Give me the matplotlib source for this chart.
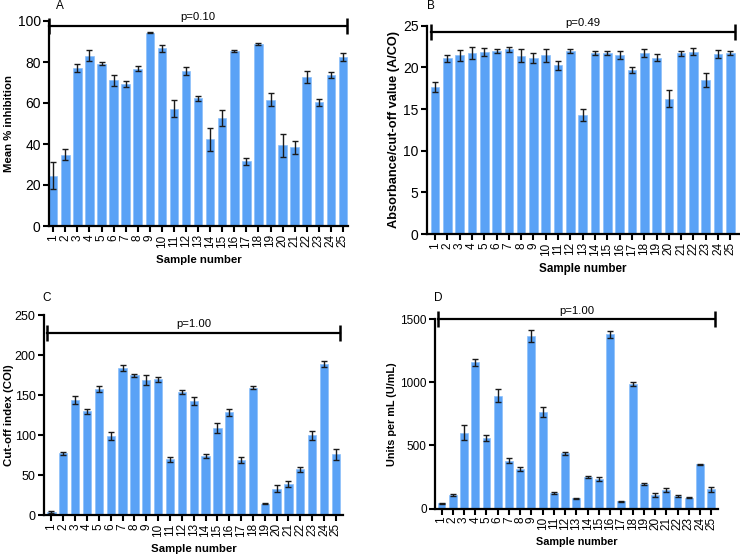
import matplotlib
matplotlib.use("Agg")
import matplotlib.pyplot as plt
import numpy as np

plt.rcParams['font.family'] = ['Liberation Sans', 'DejaVu Sans']

samples = [str(i) for i in range(1, 26)]

# Panel A: Mean % inhibition
a_vals = [24.6, 34.8, 77.2, 83.0, 79.2, 71.0, 69.3, 76.7, 94.3, 86.6, 57.2, 75.7, 62.3,
          42.3, 52.6, 85.4, 31.5, 88.7, 61.5, 39.3, 38.4, 72.6, 60.3, 73.6, 82.3]
a_err = [6.5, 2.8, 2.0, 2.7, 0.7, 2.8, 1.6, 1.3, 0.3, 1.8, 4.2, 2.1, 1.3,
         5.6, 3.9, 0.5, 1.7, 0.6, 3.2, 5.7, 3.2, 3.0, 1.7, 1.4, 1.9]

# Panel B: Absorbance/cut-off value
b_vals = [17.64, 21.08, 21.44, 21.72, 21.88, 21.92, 22.16, 21.40, 21.12, 21.44, 20.24, 22.0, 14.28,
          21.72, 21.72, 21.48, 19.68, 21.76, 21.16, 16.24, 21.68, 21.88, 18.44, 21.60, 21.72]
b_err = [0.6, 0.45, 0.7, 0.7, 0.5, 0.25, 0.3, 0.75, 0.6, 0.75, 0.5, 0.25, 0.7,
         0.2, 0.25, 0.5, 0.35, 0.5, 0.4, 1.0, 0.3, 0.4, 0.85, 0.45, 0.2]

# Panel C: Cut-off index (COI)
c_vals = [3.8, 77, 143.7, 129.5, 157.5, 98.8, 184, 174.6, 168.8, 169.6, 69.6, 153.8, 143,
          73.8, 109, 128.5, 68.8, 159, 13.8, 33, 39, 57, 99.6, 188.8, 76]
c_err = [1.0, 2.0, 5.0, 3.3, 4.0, 5.0, 4.0, 2.0, 6.0, 3.0, 3.0, 3.0, 5.0,
         3.0, 6.0, 4.6, 4.0, 1.7, 0.6, 4.0, 4.0, 3.3, 6.0, 4.0, 7.0]

# Panel D: Units per mL (U/mL)
d_vals = [42, 106, 600, 1156, 556, 894, 378, 312, 1365, 762, 122, 437, 82,
          249, 233, 1379, 58, 982, 193, 108, 146, 98, 87, 350, 153]
d_err = [4, 5, 58, 29, 24, 50, 19, 13, 48, 40, 5, 13, 4,
         10, 16, 29, 3, 16, 5, 18, 16, 8, 4, 5, 21]

panels = [
    dict(letter='A', vals=a_vals, err=a_err, ylabel='Mean % inhibition', ymax=100, yticks=[0, 20, 40, 60, 80, 100],
         p='p=0.10', bracket=97.8, rect=[49/740, 1-226/556, 299/740, 205/556], xlim=(-0.35, 24.42),
         ylc=-0.118, ytfs=10, ylfs=8.2, xlfs=8.2, let_off=(11, 15)),
    dict(letter='B', vals=b_vals, err=b_err, ylabel='Absorbance/cut-off value (A/CO)', ymax=25, yticks=[0, 5, 10, 15, 20, 25],
         p='p=0.49', bracket=24.3, rect=[427/740, 1-234/556, 312/740, 208.3/556], xlim=(-0.65, 24.7),
         ylc=-0.087, ytfs=10, ylfs=9.2, xlfs=8.4, let_off=(4, 20)),
    dict(letter='C', vals=c_vals, err=c_err, ylabel='Cut-off index (COI)', ymax=250, yticks=[0, 50, 100, 150, 200, 250],
         p='p=1.00', bracket=228, rect=[44/740, 1-515/556, 299/740, 200/556], xlim=(-0.63, 24.6),
         ylc=-0.102, ytfs=9, ylfs=8.2, xlfs=8.2, let_off=(3, 17)),
    dict(letter='D', vals=d_vals, err=d_err, ylabel='Units per mL (U/mL)', ymax=1500, yticks=[0, 500, 1000, 1500],
         p='p=1.00', bracket=1500, rect=[435/740, 1-508.5/556, 283/740, 189.5/556], xlim=(-0.58, 24.6),
         ylc=-0.134, ytfs=8.5, ylfs=7.8, xlfs=7.8, let_off=(3, 21)),
]

bar_color = '#5AA2F6'

fig = plt.figure(figsize=(7.4, 5.56), dpi=100)
for pn in panels:
    ax = fig.add_axes(pn['rect'])
    x = np.arange(len(samples))
    ax.bar(x, pn['vals'], width=0.7, color=bar_color, edgecolor='#8CC0FA', linewidth=0.5, zorder=2)
    ax.errorbar(x, pn['vals'], yerr=pn['err'], fmt='none', ecolor='#1a1a1a', elinewidth=1.0,
                capsize=2.3, capthick=1.0, zorder=3)
    ax.set_xlim(*pn['xlim'])
    ax.set_ylim(0, pn['ymax'])
    ax.set_yticks(pn['yticks'])
    ax.set_xticks(x)
    ax.set_xticklabels(samples, rotation=90, fontsize=8.5)
    ax.tick_params(axis='y', labelsize=pn['ytfs'], width=1.5, length=4, pad=2)
    ax.tick_params(axis='x', width=1.5, length=4, pad=2)
    for s in ['top', 'right']:
        ax.spines[s].set_visible(False)
    for s in ['left', 'bottom']:
        ax.spines[s].set_linewidth(1.6)
    ax.set_ylabel(pn['ylabel'], fontsize=pn['ylfs'], fontweight='bold')
    ax.yaxis.set_label_coords(pn['ylc'], 0.5)
    ax.set_xlabel('Sample number', fontsize=pn['xlfs'], fontweight='bold', labelpad=5)
    # significance bracket
    ax.plot([-0.35, 24.35], [pn['bracket'], pn['bracket']], color='black', lw=1.6,
            marker='|', markersize=11, markeredgewidth=1.8, clip_on=False, zorder=4)
    ax.annotate(pn['p'], xy=(12, pn['bracket']), xytext=(0, 2.5), textcoords='offset points',
                ha='center', va='bottom', fontsize=8.2, annotation_clip=False)
    dx, dy = pn['let_off']
    ax.annotate(pn['letter'], xy=(0, 1), xycoords='axes fraction', xytext=(dx * 0.72, dy * 0.72),
                textcoords='offset points', ha='center', va='center', fontsize=8.5, annotation_clip=False)

fig.savefig('out.png', dpi=100)
